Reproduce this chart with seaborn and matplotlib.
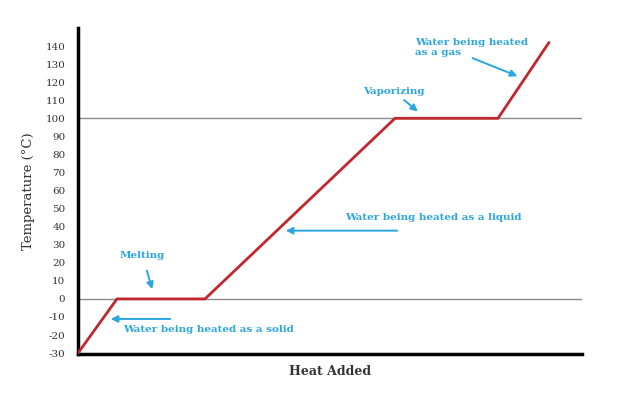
import matplotlib
matplotlib.use("Agg")
import pandas as pd
import seaborn as sns
import matplotlib.pyplot as plt

# Heating curve of water (heat in arbitrary units)
heat = [0, 39, 127, 317, 420, 471]
temperature = [-30, 0, 0, 100, 100, 142]
y_ticks = list(range(-30, 150, 10))
ref_lines = [0, 100]

df = pd.DataFrame({"heat": heat, "temperature": temperature})

sns.set_style("white")
plt.rcParams["font.family"] = ["DejaVu Serif"]

red = "#c1272d"
cyan = "#2ba6de"

fig = plt.figure(figsize=(6.22, 3.99), dpi=100)
ax = fig.add_axes([0.1254, 0.1128, 0.8103, 0.817])

for y in ref_lines:
    ax.axhline(y, color="#8a8a8a", lw=1, zorder=1)

sns.lineplot(data=df, x="heat", y="temperature", color=red, lw=2,
             ax=ax, zorder=3)

ax.set_xlim(0, 504)
ax.set_ylim(-30.5, 150)
ax.set_yticks(y_ticks)
ax.set_yticklabels([str(t) for t in y_ticks], fontsize=7.5, color="#333333")
ax.set_xticks([])
ax.tick_params(axis="y", length=0, pad=9)

sns.despine(ax=ax)
ax.spines["left"].set_linewidth(2.5)
ax.spines["left"].set_color("black")
ax.spines["bottom"].set_linewidth(2.5)
ax.spines["bottom"].set_color("black")

ax.set_ylabel("Temperature (°C)", fontsize=9.5, color="#333333", labelpad=8)
ax.set_xlabel("Heat Added", fontsize=9, color="#333333", fontweight="bold",
              labelpad=8)

arrow = dict(arrowstyle="-|>", color=cyan, lw=1.4, mutation_scale=10)
txt = dict(color=cyan, fontsize=7.5, fontweight="bold")

ax.text(337, 139.4, "Water being heated\nas a gas", va="center", ha="left",
        linespacing=1.1, **txt)
ax.annotate("", xy=(442, 122.8), xytext=(392, 133.9), arrowprops=arrow)

ax.text(285, 115, "Vaporizing", va="center", ha="left", **txt)
ax.annotate("", xy=(342, 102.8), xytext=(324, 111.1), arrowprops=arrow)

ax.text(267, 45, "Water being heated as a liquid", va="center", ha="left", **txt)
ax.annotate("", xy=(205, 37.8), xytext=(322, 37.8), arrowprops=arrow)

ax.text(64, 23.9, "Melting", va="center", ha="center", **txt)
ax.annotate("", xy=(75, 3.9), xytext=(68, 17.2), arrowprops=arrow)

ax.text(45, -17.2, "Water being heated as a solid", va="center", ha="left", **txt)
ax.annotate("", xy=(30, -11.1), xytext=(95, -11.1), arrowprops=arrow)

fig.savefig("out.png", dpi=100)
plt.close(fig)
